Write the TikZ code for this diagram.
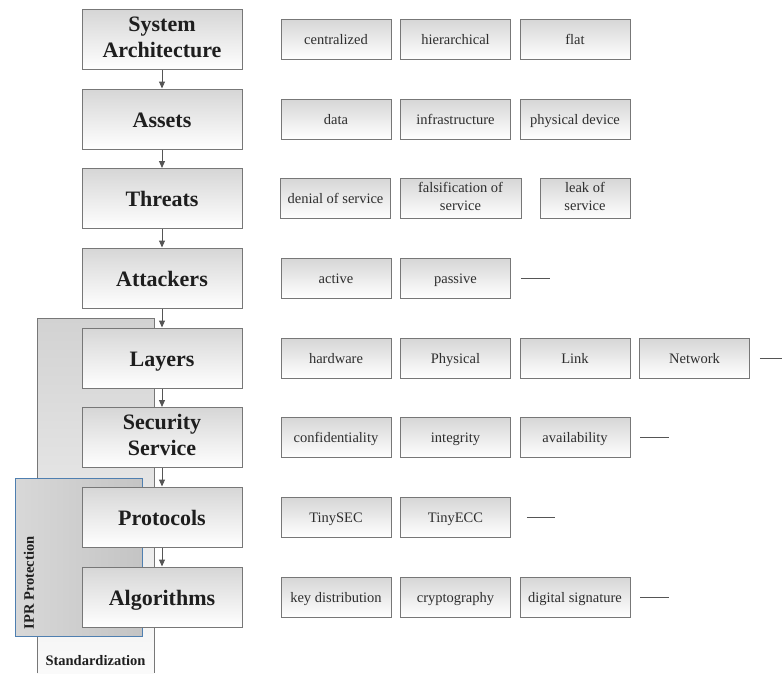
\documentclass[tikz,border=0pt]{standalone}
\usepackage{fontspec}
\setmainfont{Liberation Serif}
\usetikzlibrary{arrows.meta}

\definecolor{edgegray}{HTML}{777777}
\definecolor{shadetop}{HTML}{D6D6D6}
\definecolor{arrowgray}{HTML}{555555}
\definecolor{textdark}{HTML}{1E1E1E}
\definecolor{textmid}{HTML}{2E2E2E}
\definecolor{stdtop}{HTML}{D2D2D2}
\definecolor{stdbottom}{HTML}{FAFAFA}
\definecolor{iprleft}{HTML}{D8D8D8}
\definecolor{iprright}{HTML}{C4C4C4}
\definecolor{iprblue}{HTML}{4F7FB0}

% invisible rules that fix where the text baselines sit inside the boxes
\newcommand\maintop{\rule{0pt}{21pt}}
\newcommand\mainbot{\rule[-5pt]{0pt}{5pt}}
\newcommand\itemtop{\rule{0pt}{13.5pt}}
\newcommand\itembot{\rule[-3.5pt]{0pt}{3.5pt}}

\begin{document}
\begin{tikzpicture}[x=1pt,y=-1pt,
  mainbox/.style={draw=edgegray, line width=1pt, top color=shadetop, bottom color=white,
    minimum width=160pt, minimum height=60pt, inner sep=0pt, align=center,
    font=\fontsize{22}{26.5}\selectfont\bfseries, text=textdark,
    execute at begin node=\maintop, execute at end node=\mainbot},
  itembox/.style={draw=edgegray, line width=0.9pt, top color=shadetop, bottom color=white,
    minimum width=110pt, minimum height=40pt, inner sep=0pt, align=center,
    font=\fontsize{14.5}{18}\selectfont, text=textmid,
    execute at begin node=\itemtop, execute at end node=\itembot},
  flow/.style={draw=arrowgray, line width=1pt, -{Triangle[length=7pt,width=6pt]}},
  tail/.style={draw=arrowgray, line width=0.8pt},
  sidelabel/.style={font=\fontsize{14.5}{17}\selectfont\bfseries, text=textdark, inner sep=0pt}]

\useasboundingbox (0,0) rectangle (782,673);

% Standardization band (open at the bottom)
\fill[top color=stdtop, bottom color=stdbottom] (37,318) rectangle (154,673);
\draw[edgegray, line width=1pt] (37,673) -- (37,318) -- (154,318) -- (154,673);
\node[sidelabel] (std) at (95.5,661) {Standardization};

% IPR protection band
\draw[iprblue, line width=1pt, left color=iprleft, right color=iprright] (15,478) rectangle (142,636);
\node[sidelabel, rotate=90] (ipr) at (29,583) {IPR Protection};

% Main column
\node[mainbox] (sa) at (162,39.5)  {System\\Architecture};
\node[mainbox] (as) at (162,119)   {Assets};
\node[mainbox] (th) at (162,198.5) {Threats};
\node[mainbox] (at) at (162,278)   {Attackers};
\node[mainbox] (la) at (162,358)   {Layers};
\node[mainbox] (ss) at (162,437.5) {Security\\Service};
\node[mainbox] (pr) at (162,517)   {Protocols};
\node[mainbox] (al) at (162,597)   {Algorithms};

\draw[flow] (sa.south) -- (as.north);
\draw[flow] (as.south) -- (th.north);
\draw[flow] (th.south) -- (at.north);
\draw[flow] (at.south) -- (la.north);
\draw[flow] (la.south) -- (ss.north);
\draw[flow] (ss.south) -- (pr.north);
\draw[flow] (pr.south) -- (al.north);

% System architecture
\node[itembox] (sa1) at (336,39.5)   {centralized};
\node[itembox] (sa2) at (455.5,39.5) {hierarchical};
\node[itembox] (sa3) at (575,39.5)   {flat};

% Assets
\node[itembox] (as1) at (336,119)   {data};
\node[itembox] (as2) at (455.5,119) {infrastructure};
\node[itembox] (as3) at (575,119)   {physical device};

% Threats
\node[itembox] (th1) at (335.5,198.5) {denial of service};
\node[itembox, minimum width=121pt] (th2) at (460.5,198.5) {falsification of\\service};
\node[itembox, minimum width=90pt] (th3) at (585,198.5) {leak of\\service};

% Attackers
\node[itembox] (at1) at (336,278)   {active};
\node[itembox] (at2) at (455.5,278) {passive};
\coordinate (atend) at (550,278);
\draw[tail] ([xshift=10pt]at2.east) -- (atend);

% Layers
\node[itembox] (la1) at (336,358)   {hardware};
\node[itembox] (la2) at (455.5,358) {Physical};
\node[itembox] (la3) at (575,358)   {Link};
\node[itembox] (la4) at (694.5,358) {Network};
\coordinate (laend) at (782,358);
\draw[tail] ([xshift=10pt]la4.east) -- (laend);

% Security service
\node[itembox] (ss1) at (336,437.5)   {confidentiality};
\node[itembox] (ss2) at (455.5,437.5) {integrity};
\node[itembox] (ss3) at (575,437.5)   {availability};
\coordinate (ssend) at (669,437.5);
\draw[tail] ([xshift=10pt]ss3.east) -- (ssend);

% Protocols
\node[itembox] (pr1) at (336,517)   {TinySEC};
\node[itembox] (pr2) at (455.5,517) {TinyECC};
\coordinate (prend) at (555,517);
\draw[tail] ([xshift=16pt]pr2.east) -- (prend);

% Algorithms
\node[itembox] (al1) at (336,597)   {key distribution};
\node[itembox] (al2) at (455.5,597) {cryptography};
\node[itembox] (al3) at (575,597)   {digital signature};
\coordinate (alend) at (669,597);
\draw[tail] ([xshift=10pt]al3.east) -- (alend);

\end{tikzpicture}
\end{document}
